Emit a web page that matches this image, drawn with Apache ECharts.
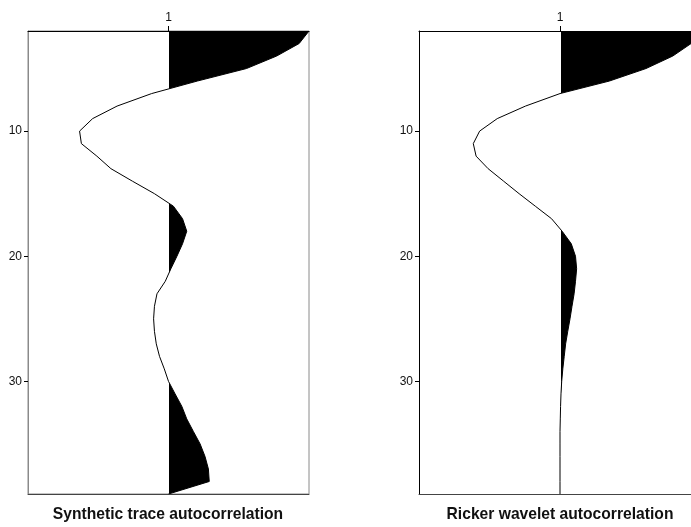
<!DOCTYPE html>
<html>
<head>
<meta charset="utf-8">
<script src="https://cdn.jsdelivr.net/npm/echarts@6/dist/echarts.min.js"></script>
<style>
html,body{margin:0;padding:0;background:#fff;}
#chart{width:691px;height:527px;}
</style>
</head>
<body>
<div id="chart"></div>
<script>
// lag / sample axis (top to bottom)
var lags = [];
for (var i = 2; i <= 39; i++) lags.push(String(i));
var yTicks = [10, 20, 30];
var traceLabel = '1';
var titles = ['Synthetic trace autocorrelation', 'Ricker wavelet autocorrelation'];

// normalised amplitudes, one per lag 2..39
var syntheticAuto = [1.00, 0.93, 0.77, 0.555, 0.205, -0.12, -0.366, -0.54, -0.633, -0.62,
  -0.51, -0.41, -0.257, -0.10, 0.035, 0.10, 0.13, 0.10, 0.06, 0.017,
  -0.023, -0.082, -0.10, -0.106, -0.10, -0.087, -0.064, -0.03, 0.0, 0.047,
  0.095, 0.13, 0.177, 0.225, 0.26, 0.284, 0.29, 0.0];
var rickerAuto = [1.00, 0.93, 0.80, 0.61, 0.35, 0.0, -0.245, -0.445, -0.57, -0.615,
  -0.595, -0.51, -0.40, -0.29, -0.175, -0.06, 0.015, 0.08, 0.11, 0.118,
  0.11, 0.10, 0.085, 0.071, 0.055, 0.04, 0.03, 0.02, 0.012, 0.007,
  0.004, 0.002, 0.0, 0.0, 0.0, 0.0, 0.0, 0.0];

function pairs(arr) { return arr.map(function (v, i) { return [v, lags[i]]; }); }

var W = 691;
var FONT = '"Liberation Sans",Arial,sans-serif';
// panel geometry: each panel spans amplitude -1..1 over PANEL_W px; the right one runs off the page
var PANEL_W = 282;
var panelLeft = [28, 419];
var visibleW = [281, W - 419];
var grids = [], xAxes = [], yAxes = [], series = [];
[syntheticAuto, rickerAuto].forEach(function (arr, g) {
  var xMax = -1 + 2 * visibleW[g] / PANEL_W;
  if (g === 0) xMax = 1;
  grids.push({left: panelLeft[g], top: 31, width: visibleW[g], height: 463,
    show: g === 0, borderColor: '#8a8a8a', borderWidth: 1});
  xAxes.push({
    gridIndex: g, type: 'value', position: 'top', min: -1, max: xMax,
    splitLine: {show: false},
    axisLine: {show: true, onZero: false, lineStyle: {color: '#000', width: 1}},
    axisTick: {show: true, length: 5, inside: false, customValues: [0], lineStyle: {color: '#000'}},
    axisLabel: {show: true, customValues: [0], margin: 7, fontFamily: FONT, fontSize: 12, color: '#111',
      formatter: function () { return traceLabel; }}
  });
  xAxes.push({
    gridIndex: g, type: 'value', position: 'bottom', min: -1, max: xMax,
    splitLine: {show: false},
    axisLine: {show: true, onZero: false, lineStyle: {color: '#444', width: 1}},
    axisTick: {show: false}, axisLabel: {show: false}
  });
  yAxes.push({
    gridIndex: g, type: 'category', data: lags, inverse: true, boundaryGap: false,
    axisLine: {show: true, onZero: false, lineStyle: {color: g === 0 ? '#8a8a8a' : '#000', width: 1}},
    axisTick: {show: true, length: 4, alignWithLabel: true,
      interval: function (idx, val) { return yTicks.indexOf(+val) >= 0; }, lineStyle: {color: '#000'}},
    axisLabel: {show: true, margin: 6, fontFamily: FONT, fontSize: 12, color: '#111',
      interval: function (idx, val) { return yTicks.indexOf(+val) >= 0; }},
    splitLine: {show: false}
  });
  series.push({
    type: 'line', xAxisIndex: 2 * g, yAxisIndex: g, data: pairs(arr), clip: true,
    symbol: 'none', lineStyle: {width: 0, opacity: 0},
    areaStyle: {opacity: 1, origin: 'auto'}, silent: true, z: 2
  });
  series.push({
    type: 'line', xAxisIndex: 2 * g, yAxisIndex: g, data: pairs(arr), clip: true,
    symbol: 'none', lineStyle: {color: '#000', width: 1}, silent: true, z: 3
  });
});

var chart = echarts.init(document.getElementById('chart'), null, {renderer: 'canvas'});
chart.setOption({
  animation: false,
  backgroundColor: '#fff',
  grid: grids,
  xAxis: xAxes,
  yAxis: yAxes,
  visualMap: {
    type: 'piecewise', show: false, dimension: 0, seriesIndex: [0, 2],
    pieces: [{gte: -5, lt: 0.004, color: 'rgba(255,255,255,0)'}, {gte: 0.004, lte: 5, color: '#000'}],
    outOfRange: {color: 'rgba(255,255,255,0)'}
  },
  series: series,
  graphic: [
    {type: 'text', x: 168, y: 514, scaleX: 0.92, style: {text: titles[0], textAlign: 'center', textVerticalAlign: 'middle',
      font: 'bold 17px ' + FONT, fill: '#111'}},
    {type: 'text', x: 560, y: 514, scaleX: 0.92, style: {text: titles[1], textAlign: 'center', textVerticalAlign: 'middle',
      font: 'bold 17px ' + FONT, fill: '#111'}}
  ]
});
</script>
</body>
</html>
